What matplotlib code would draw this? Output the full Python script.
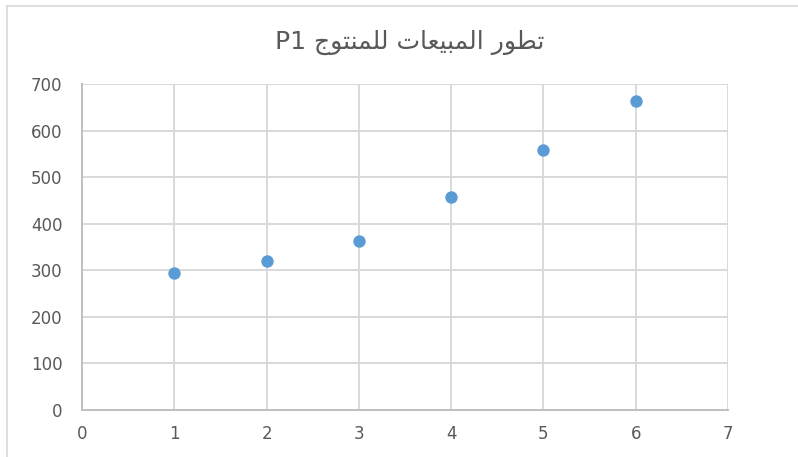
import matplotlib
matplotlib.use('Agg')
import matplotlib.pyplot as plt
from matplotlib.lines import Line2D

plt.rcParams['font.family'] = ['DejaVu Sans']

# data
x_vals = [1, 2, 3, 4, 5, 6]
sales = [294, 320, 363, 457, 558, 663]

# title: "تطور المبيعات للمنتوج P1"
# matplotlib does no Arabic shaping / bidi, so the words are written in
# presentation forms, already in visual (left to right) order
title_text = ('P1 '
              '\uFE9D\uFEEE\uFE98\uFEE8\uFEE4\uFEE0\uFEDF '
              '\uFE95\uFE8E\uFECC\uFEF4\uFE92\uFEE4\uFEDF\uFE8D '
              '\uFEAD\uFEEE\uFEC4\uFE97')

grid_c = '#d9d9d9'
text_c = '#595959'

fig = plt.figure(figsize=(7.98, 4.57), dpi=100)
ax = fig.add_axes([82 / 798, 1 - 410 / 457, (728 - 82) / 798, (410 - 84) / 457])

ax.scatter(x_vals, sales, s=80, color='#5b9bd5', zorder=3, linewidths=0)

ax.set_xlim(0, 7)
ax.set_ylim(0, 700)
ax.set_xticks(range(0, 8))
ax.set_yticks(range(0, 701, 100))
ax.grid(True, color=grid_c, linewidth=1.4)
ax.set_axisbelow(True)

for side in ['top', 'right']:
    ax.spines[side].set_visible(False)
for side in ['left', 'bottom']:
    ax.spines[side].set_color('#bfbfbf')
    ax.spines[side].set_linewidth(1.4)

ax.tick_params(length=0, labelsize=12, labelcolor=text_c)
ax.tick_params(axis='x', pad=11)
ax.tick_params(axis='y', pad=14)

fig.text(410 / 798, 1 - 42 / 457, title_text, ha='center', va='center',
         fontsize=18, color=text_c)

# outer chart frame (only top and left edges visible in the crop)
fig.add_artist(Line2D([7 / 798, 1], [1 - 6 / 457, 1 - 6 / 457], color='#d9d9d9', lw=1.2))
fig.add_artist(Line2D([7 / 798, 7 / 798], [0, 1 - 6 / 457], color='#d9d9d9', lw=1.2))

fig.savefig('out.png', dpi=100)
